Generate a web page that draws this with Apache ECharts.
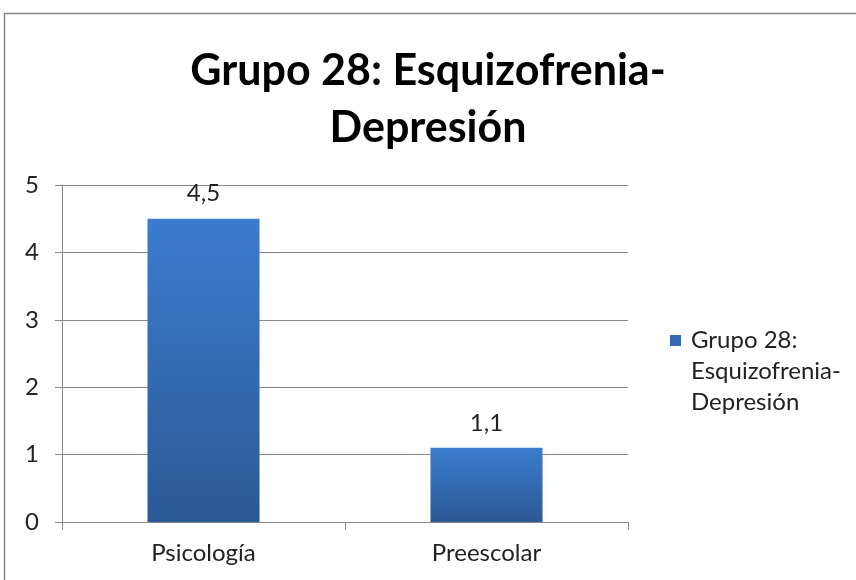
<!DOCTYPE html>
<html>
<head>
<meta charset="utf-8">
<script src="https://cdn.jsdelivr.net/npm/echarts@6/dist/echarts.min.js"></script>
<style>
  html, body { margin: 0; padding: 0; background: #fff; }
  #chart { width: 856px; height: 580px; }
</style>
</head>
<body>
<div id="chart"></div>
<script>
// datos
var categorias = ['Psicología', 'Preescolar'];
var valores = [4.5, 1.1];
var serieNombre = 'Grupo 28:\nEsquizofrenia-\nDepresión';
var titulo = 'Grupo 28: Esquizofrenia-\nDepresión';

var chart = echarts.init(document.getElementById('chart'));

var azul = new echarts.graphic.LinearGradient(0, 0, 0, 1, [
  { offset: 0, color: '#3b7cce' },
  { offset: 1, color: '#2c5996' }
]);

var option = {
  backgroundColor: '#fff',
  textStyle: { fontFamily: 'Lato' },
  // marco del grafico
  graphic: [{
    type: 'rect',
    shape: { x: 4.5, y: 13.5, width: 900, height: 620 },
    style: { fill: 'none', stroke: '#878787', lineWidth: 1.5 },
    silent: true
  }],
  title: {
    text: titulo,
    left: 'center',
    top: 38,
    textStyle: {
      fontSize: 43,
      fontWeight: 'bold',
      color: '#000',
      lineHeight: 57,
      fontFamily: 'Lato'
    }
  },
  legend: {
    orient: 'vertical',
    left: 670,
    top: 325,
    padding: 0,
    // cuadrado arriba, punto vacio abajo para que el texto empiece en la primera linea
    icon: 'path://M0,0H11V11H0Z M16,73L16,73',
    itemWidth: 16,
    itemHeight: 73,
    itemGap: 0,
    itemStyle: { color: '#3669b3' },
    textStyle: {
      fontSize: 24,
      color: '#222',
      lineHeight: 31
    },
    data: [serieNombre]
  },
  grid: {
    left: 62,
    right: 228,
    top: 185,
    bottom: 58
  },
  xAxis: {
    type: 'category',
    data: categorias,
    axisLine: { lineStyle: { color: '#888', width: 1 } },
    axisTick: { show: true, length: 8, lineStyle: { color: '#888' } },
    axisLabel: { fontSize: 24, color: '#222', margin: 19 }
  },
  yAxis: {
    type: 'value',
    min: 0,
    max: 5,
    interval: 1,
    axisLine: { show: true, lineStyle: { color: '#888', width: 1 } },
    axisTick: { show: true, length: 7, lineStyle: { color: '#888' } },
    axisLabel: { fontSize: 24, color: '#222', margin: 23 },
    splitLine: { lineStyle: { color: '#888', width: 1 } }
  },
  series: [{
    name: serieNombre,
    type: 'bar',
    data: valores,
    barWidth: '39.6%',
    itemStyle: { color: azul },
    label: {
      show: true,
      position: 'top',
      distance: 13,
      fontSize: 24,
      color: '#222',
      formatter: function (p) { return String(p.value).replace('.', ','); }
    }
  }]
};

chart.setOption(option);
</script>
</body>
</html>
